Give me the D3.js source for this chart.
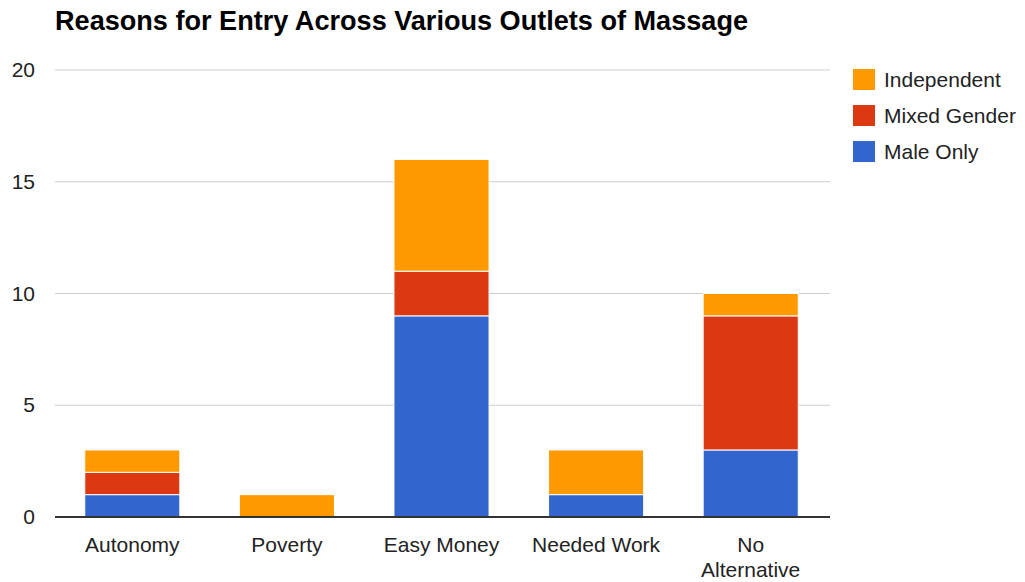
<!DOCTYPE html>
<html><head><meta charset="utf-8">
<script src="https://cdn.jsdelivr.net/npm/d3@7"></script>
<style>body{margin:0;background:#fff;} svg{display:block;font-family:"Liberation Sans",Arial,sans-serif;}</style>
</head><body>
<svg id="c" width="1025" height="582"></svg>
<script>
const categories = ["Autonomy", "Poverty", "Easy Money", "Needed Work", "No Alternative"];
const seriesNames = ["Male Only", "Mixed Gender", "Independent"];
const maleOnly = [1, 0, 9, 1, 3];
const mixedGender = [1, 0, 2, 0, 6];
const independent = [1, 1, 5, 2, 1];
const yTicks = [0, 5, 10, 15, 20];
const colors = ["#3366cc", "#dc3912", "#ff9900"];

const svg = d3.select("#c");
const m = {left: 55, right: 828, top: 70, bottom: 517};
const x = d3.scaleBand().domain(categories).range([m.left, m.right]).paddingInner(0.385).paddingOuter(0.1925);
const y = d3.scaleLinear().domain([0, 20]).range([m.bottom, m.top]);

const rows = categories.map((c, i) => ({cat: c, "Male Only": maleOnly[i], "Mixed Gender": mixedGender[i], "Independent": independent[i]}));
const stacked = d3.stack().keys(seriesNames)(rows);

svg.append("text").attr("x", 55).attr("y", 30).attr("font-size", 27).attr("font-weight", "bold").attr("fill", "#000")
  .attr("textLength", 693).attr("lengthAdjust", "spacingAndGlyphs")
  .text("Reasons for Entry Across Various Outlets of Massage");

// gridlines
svg.append("g").selectAll("line").data(yTicks.filter(d => d > 0)).join("line")
  .attr("x1", m.left).attr("x2", m.right + 2).attr("y1", d => y(d)).attr("y2", d => y(d))
  .attr("stroke", "#cccccc").attr("stroke-width", 1);

// y labels
svg.append("g").selectAll("text").data(yTicks).join("text")
  .attr("x", 35).attr("y", d => y(d) + 7).attr("text-anchor", "end")
  .attr("font-size", 21).attr("fill", "#222").text(d => d);

// bars
svg.append("g").selectAll("g").data(stacked).join("g")
  .attr("fill", (d, i) => colors[i])
  .selectAll("rect").data(d => d.filter(s => s[1] - s[0] > 0)).join("rect")
  .attr("x", d => x(d.data.cat)).attr("width", x.bandwidth())
  .attr("y", d => y(d[1])).attr("height", d => y(d[0]) - y(d[1]))
  .attr("stroke", "#ffffff").attr("stroke-width", 1);

// baseline
svg.append("line").attr("x1", m.left).attr("x2", m.right + 2).attr("y1", y(0)).attr("y2", y(0))
  .attr("stroke", "#333").attr("stroke-width", 2);

// x labels
const xl = svg.append("g").selectAll("text").data(categories).join("text")
  .attr("x", d => x(d) + x.bandwidth() / 2).attr("y", 552).attr("text-anchor", "middle")
  .attr("font-size", 21).attr("fill", "#222");
xl.each(function(d) {
  const t = d3.select(this);
  if (d === "No Alternative") {
    t.append("tspan").attr("x", x(d) + x.bandwidth() / 2).attr("dy", 0).text("No");
    t.append("tspan").attr("x", x(d) + x.bandwidth() / 2).attr("dy", 25).text("Alternative");
  } else t.text(d);
});

// legend
const leg = svg.append("g").selectAll("g").data(seriesNames.slice().reverse()).join("g")
  .attr("transform", (d, i) => `translate(853,${69 + i * 36})`);
leg.append("rect").attr("width", 22).attr("height", 21)
  .attr("fill", d => colors[seriesNames.indexOf(d)]);
leg.append("text").attr("x", 31).attr("y", 18).attr("font-size", 21).attr("fill", "#222").text(d => d);
</script>
</body></html>
